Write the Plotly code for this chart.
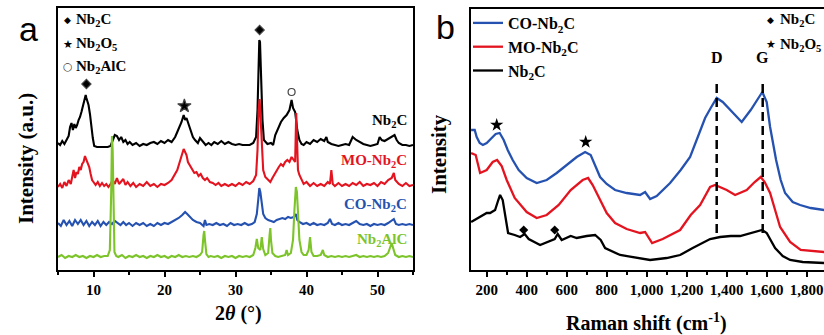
import plotly.graph_objects as go

# ---------------- Panel a : XRD (2theta, arbitrary intensity) ----------------
nb2c_x = [5.0, 5.3, 5.6, 5.9, 6.2, 6.5, 6.7, 6.9, 7.1, 7.3, 7.5, 7.7, 7.9, 8.1, 8.3, 8.5, 8.7, 8.9, 9.0, 9.1,
          9.3, 9.5, 9.7, 9.9, 10.1, 10.5, 11.0, 11.5, 12.0, 12.4, 12.7, 13.0, 13.3, 13.6, 13.9, 14.2, 14.5, 14.8,
          15.1, 15.5, 16.0, 16.5, 17.0, 17.5, 18.0, 18.5, 19.0, 19.5, 20.0, 20.5, 21.0, 21.5, 21.8, 22.1, 22.4,
          22.7, 22.9, 23.1, 23.4, 23.7, 24.0, 24.3, 24.7, 25.0, 25.4, 25.8, 26.2, 26.6, 27.0, 27.5, 28.0, 28.5,
          29.0, 29.5, 30.0, 30.5, 31.0, 31.5, 32.0, 32.5, 32.9, 33.1, 33.2, 33.35, 33.45, 33.6, 33.8, 34.0, 34.5,
          35.0, 35.3, 35.6, 36.0, 36.4, 36.8, 37.2, 37.6, 37.9, 38.1, 38.4, 38.7, 39.0, 39.3, 39.6, 40.0, 40.5,
          41.0, 41.5, 42.0, 42.5, 42.8, 43.0, 43.5, 44.0, 44.5, 45.0, 45.5, 46.0, 46.5, 47.0, 47.5, 48.0, 48.5,
          49.0, 49.5, 50.0, 50.3, 50.6, 51.0, 51.5, 52.0, 52.4, 52.7, 53.0, 53.5, 54.0, 54.5, 55.0]
nb2c_y = [127, 125, 129, 126, 130, 134, 143, 147, 140, 146, 142, 145, 150, 153, 158, 163, 168, 175, 172, 170,
          165, 156, 143, 132, 124, 123, 123, 123, 123, 124, 130, 135, 134, 130, 133, 128, 130, 126,
          128, 125, 127, 124, 126, 125, 127, 128, 126, 129, 127, 130, 128, 133, 138, 143, 148,
          155, 150, 152, 145, 140, 133, 130, 127, 132, 128, 125, 127, 125, 128, 126, 129, 126,
          128, 126, 125, 126, 125, 125, 125, 127, 133, 160, 200, 230, 228, 195, 150, 130, 126,
          127, 125, 135, 142, 148, 152, 155, 160, 170, 162, 158, 140, 130, 126, 125, 128, 126,
          130, 128, 131, 129, 133, 128, 126, 125, 124, 125, 126, 125, 133, 130, 128, 126, 125,
          124, 125, 126, 133, 130, 129, 131, 133, 135, 130, 127, 125, 125, 124, 125]

mo_x = [5.0, 5.3, 5.6, 5.9, 6.2, 6.5, 6.8, 7.0, 7.2, 7.4, 7.6, 7.8, 8.0, 8.2, 8.4, 8.6, 8.8, 9.0, 9.2, 9.4,
        9.6, 9.8, 10.0, 10.3, 10.6, 10.9, 11.2, 11.5, 11.8, 12.1, 12.4, 12.7, 13.0, 13.3, 13.6, 13.9, 14.2,
        14.5, 14.8, 15.2, 15.6, 16.0, 16.5, 17.0, 17.5, 18.0, 18.5, 19.0, 19.5, 20.0, 20.5, 21.0, 21.4, 21.8,
        22.1, 22.4, 22.7, 22.9, 23.1, 23.3, 23.6, 23.9, 24.2, 24.5, 24.8, 25.1, 25.4, 25.7, 26.0, 26.4, 26.8,
        27.2, 27.6, 28.0, 28.5, 29.0, 29.5, 30.0, 30.5, 31.0, 31.5, 32.0, 32.5, 32.9, 33.1, 33.25, 33.4,
        33.55, 33.7, 33.9, 34.2, 34.6, 34.9, 35.2, 35.5, 35.8, 36.1, 36.4, 36.7, 37.0, 37.3, 37.6, 37.9,
        38.2, 38.4, 38.55, 38.65, 38.8, 39.0, 39.3, 39.6, 40.0, 40.5, 41.0, 41.5, 42.0, 42.5, 43.0, 43.3,
        43.5, 43.7, 44.0, 44.5, 45.0, 45.5, 46.0, 46.5, 47.0, 47.5, 48.0, 48.5, 49.0, 49.5, 50.0, 50.5,
        51.0, 51.5, 52.0, 52.3, 52.5, 53.0, 53.5, 54.0, 54.5, 55.0]
mo_y = [83, 86, 82, 88, 84, 90, 86, 95, 100, 92, 98, 96, 103, 100, 106, 108, 114, 110, 107, 103,
        96, 90, 88, 85, 88, 84, 87, 84, 86, 83, 86, 90, 86, 92, 86, 89, 91,
        85, 88, 84, 87, 83, 86, 84, 88, 84, 86, 83, 86, 85, 87, 90, 95, 100,
        107, 114, 121, 118, 115, 108, 104, 100, 97, 98, 94, 96, 92, 90, 92, 88, 87,
        85, 87, 84, 86, 84, 86, 84, 87, 85, 88, 86, 89, 95, 120, 160, 171,
        150, 120, 100, 93, 90, 88, 92, 96, 100, 103, 106, 104, 108, 110, 108, 113,
        110, 108, 157, 140, 100, 95, 90, 86, 88, 84, 87, 84, 86, 84, 88, 86,
        100, 86, 84, 87, 84, 86, 84, 87, 85, 88, 84, 86, 85, 87, 84, 88,
        86, 90, 92, 97, 90, 86, 84, 87, 84, 85]

co_x = [5.0, 5.4, 5.8, 6.2, 6.6, 7.0, 7.4, 7.8, 8.2, 8.6, 9.0, 9.4, 9.8, 10.2, 10.6, 11.0, 11.4, 11.8, 12.2,
        12.6, 13.0, 13.4, 13.8, 14.2, 14.6, 15.0, 15.5, 16.0, 16.5, 17.0, 17.5, 18.0, 18.5, 19.0, 19.5, 20.0,
        20.5, 21.0, 21.5, 22.0, 22.5, 22.9, 23.2, 23.6, 24.0, 24.5, 25.0, 25.5, 25.7, 25.9, 26.3, 26.8, 27.3,
        27.8, 28.3, 28.8, 29.3, 29.8, 30.3, 30.8, 31.3, 31.8, 32.3, 32.7, 33.0, 33.2, 33.35, 33.5, 33.7, 33.9,
        34.2, 34.6, 35.0, 35.4, 35.8, 36.2, 36.6, 37.0, 37.4, 37.8, 38.2, 38.5, 38.7, 39.0, 39.5, 40.0, 40.5,
        41.0, 41.5, 42.0, 42.5, 43.0, 43.3, 43.6, 44.0, 44.5, 45.0, 45.5, 46.0, 46.5, 47.0, 47.5, 48.0, 48.5,
        49.0, 49.5, 50.0, 50.5, 51.0, 51.5, 52.0, 52.3, 52.6, 53.0, 53.5, 54.0, 54.5, 55.0]
co_y = [47, 44, 50, 45, 49, 44, 50, 46, 50, 45, 49, 44, 48, 45, 49, 44, 48, 45, 48,
        46, 49, 47, 45, 48, 45, 47, 44, 47, 45, 47, 44, 46, 44, 47, 45, 47,
        46, 48, 50, 52, 55, 58, 56, 53, 50, 48, 47, 44, 50, 45, 46, 45, 47,
        45, 46, 44, 47, 45, 46, 45, 47, 45, 46, 48, 56, 70, 82, 78, 64, 56,
        52, 50, 49, 48, 50, 51, 52, 51, 53, 52, 53, 56, 50, 48, 46, 47, 45,
        47, 45, 46, 45, 47, 51, 46, 45, 47, 45, 46, 45, 47, 49, 46, 45, 46,
        44, 46, 45, 46, 45, 47, 49, 51, 46, 45, 46, 45, 46, 45]

alc_x = [5.0, 5.5, 6.0, 6.5, 7.0, 7.5, 8.0, 8.5, 9.0, 9.5, 10.0, 10.5, 11.0, 11.5, 12.0, 12.3, 12.5, 12.6,
         12.7, 12.8, 12.95, 13.2, 13.5, 14.0, 14.5, 15.0, 15.5, 16.0, 16.5, 17.0, 17.5, 18.0, 18.5, 19.0, 19.5,
         20.0, 20.5, 21.0, 21.5, 22.0, 22.5, 23.0, 23.5, 24.0, 24.5, 25.0, 25.3, 25.5, 25.6, 25.7, 25.9, 26.2,
         26.5, 27.0, 27.5, 28.0, 28.5, 29.0, 29.5, 30.0, 30.5, 31.0, 31.5, 32.0, 32.5, 32.8, 33.0, 33.2, 33.5,
         33.7, 33.9, 34.2, 34.6, 34.8, 34.9, 35.0, 35.2, 35.6, 36.0, 36.5, 37.0, 37.2, 37.4, 37.8, 38.1, 38.3,
         38.5, 38.65, 38.8, 39.0, 39.3, 39.6, 40.0, 40.3, 40.5, 40.7, 41.0, 41.5, 42.0, 42.3, 42.5, 43.0, 43.5,
         44.0, 44.5, 45.0, 45.5, 46.0, 46.5, 47.0, 47.5, 48.0, 48.5, 49.0, 49.5, 50.0, 50.5, 51.0, 51.5, 51.8,
         52.0, 52.2, 52.5, 53.0, 53.5, 54.0, 54.5, 55.0]
alc_y = [13, 15, 12, 14, 13, 15, 13, 14, 12, 14, 13, 15, 13, 14, 14, 20, 80, 134,
         120, 50, 18, 14, 13, 15, 12, 14, 13, 15, 13, 14, 12, 14, 13, 15, 13,
         14, 12, 14, 13, 15, 13, 14, 13, 14, 13, 15, 18, 35, 39, 30, 16, 13,
         14, 13, 14, 12, 14, 13, 14, 12, 14, 13, 14, 13, 15, 22, 31, 22, 20,
         33, 21, 15, 17, 35, 42, 30, 17, 14, 13, 14, 15, 20, 15, 17, 30, 60,
         83, 78, 55, 30, 18, 15, 15, 20, 33, 18, 14, 14, 15, 20, 15, 13, 14,
         13, 14, 13, 14, 13, 14, 15, 13, 14, 13, 14, 13, 14, 13, 14, 17, 23,
         27, 22, 15, 13, 14, 13, 14, 13]

# phase markers above peaks (panel a)
a_mark_x = [9.0, 22.8, 33.4, 37.9]
a_mark_y = [186, 164, 240, 178]
a_mark_sym = ["diamond", "star", "diamond", "circle-open"]

a_labels = ["Nb<sub>2</sub>C", "MO-Nb<sub>2</sub>C", "CO-Nb<sub>2</sub>C", "Nb<sub>2</sub>AlC"]
a_xticks = [10, 20, 30, 40, 50]

# ---------------- Panel b : Raman ----------------
co_r_x = [122, 140, 150, 165, 181, 200, 220, 245, 265, 285, 305, 330, 360, 400, 450, 500, 550, 600, 650, 692,
          720, 767, 800, 842, 900, 967, 992, 1017, 1050, 1117, 1170, 1217, 1267, 1292, 1320, 1350, 1380, 1420,
          1475, 1520, 1550, 1578, 1600, 1617, 1647, 1670, 1692, 1730, 1767, 1820, 1887]
co_r_y = [140, 140, 133, 127, 125, 127, 131, 136, 137, 130, 120, 110, 100, 92, 87, 90, 97, 105, 113, 118,
          115, 93, 86, 80, 77, 75, 78, 71, 74, 87, 100, 113, 140, 152, 162, 172, 168, 160,
          148, 160, 170, 178, 168, 143, 110, 90, 77, 68, 65, 62, 60]

mo_r_x = [122, 145, 167, 200, 230, 252, 275, 300, 340, 400, 450, 500, 560, 620, 680, 707, 730, 767, 800, 842,
          900, 967, 992, 1027, 1080, 1167, 1220, 1267, 1317, 1342, 1400, 1442, 1500, 1540, 1570, 1590, 1617,
          1642, 1667, 1717, 1770, 1887]
mo_r_y = [117, 115, 97, 100, 108, 110, 104, 90, 72, 58, 52, 55, 65, 80, 90, 92, 85, 70, 57, 47,
          41, 37, 38, 27, 31, 40, 55, 65, 83, 85, 80, 75, 80, 88, 93, 88, 77,
          60, 43, 28, 20, 18]

nb_r_x = [122, 160, 200, 217, 242, 258, 267, 280, 295, 307, 340, 367, 390, 410, 467, 500, 540, 555, 575, 620,
          650, 700, 742, 770, 792, 867, 950, 1017, 1100, 1167, 1230, 1267, 1317, 1367, 1420, 1467, 1530, 1577,
          1600, 1642, 1680, 1717, 1780, 1887]
nb_r_y = [48, 52, 57, 57, 60, 70, 75, 70, 50, 37, 35, 33, 36, 31, 25, 28, 31, 36, 30, 34,
          32, 34, 35, 30, 22, 15, 12, 10, 12, 15, 22, 26, 31, 33, 34, 34, 37, 40,
          37, 22, 14, 10, 8, 7]

b_mark_x = [250, 695, 385, 540]
b_mark_y = [145, 128, 40, 40]
b_mark_sym = ["star", "star", "diamond", "diamond"]

band_x = [1350, 1580]           # D and G bands
band_y = [37, 190]              # extent of dashed guide lines
band_names = ["D", "G"]

b_xticks = [200, 400, 600, 800, 1000, 1200, 1400, 1600, 1800]

BLACK = "#000000"
RED = "#e3141f"
BLUE = "#2552b0"
GREEN = "#7cc42a"
SERIF = "Liberation Serif, Times New Roman, serif"

W, H = 824, 335
def PX(x):
    return x / W
def PY(y):
    return 1 - y / H

fig = go.Figure()

# panel a traces
for xs, ys, col in [(nb2c_x, nb2c_y, BLACK), (mo_x, mo_y, RED), (co_x, co_y, BLUE), (alc_x, alc_y, GREEN)]:
    fig.add_trace(go.Scatter(x=xs, y=ys, mode="lines", line=dict(color=col, width=2.1),
                             showlegend=False, xaxis="x", yaxis="y"))
for xm, ym, sm in zip(a_mark_x, a_mark_y, a_mark_sym):
    fig.add_trace(go.Scatter(x=[xm], y=[ym], mode="markers", showlegend=False, xaxis="x", yaxis="y",
                             marker=dict(symbol=sm, color=BLACK if sm != "circle-open" else "#444",
                                         size={"diamond": 7, "star": 10, "circle-open": 7}[sm],
                                         line=dict(width=1.2, color="#444"))))

# panel b traces (legend order: CO, MO, Nb2C)
for xs, ys, col, name in [(co_r_x, co_r_y, BLUE, "CO-Nb<sub>2</sub>C"),
                          (mo_r_x, mo_r_y, RED, "MO-Nb<sub>2</sub>C"),
                          (nb_r_x, nb_r_y, BLACK, "Nb<sub>2</sub>C")]:
    fig.add_trace(go.Scatter(x=xs, y=ys, mode="lines", line=dict(color=col, width=2.3),
                             name=name, legendgroup=name, showlegend=True, xaxis="x2", yaxis="y2"))
for xm, ym, sm in zip(b_mark_x, b_mark_y, b_mark_sym):
    fig.add_trace(go.Scatter(x=[xm], y=[ym], mode="markers", showlegend=False, xaxis="x2", yaxis="y2",
                             marker=dict(symbol=sm, color=BLACK, size=10 if sm == "star" else 7)))
for bx in band_x:
    fig.add_trace(go.Scatter(x=[bx, bx], y=band_y, mode="lines", showlegend=False, xaxis="x2", yaxis="y2",
                             line=dict(color=BLACK, width=2.5, dash="9px,5px")))

tickfont = dict(family=SERIF, size=15, color=BLACK, weight="bold")
fig.update_layout(
    width=W, height=H, margin=dict(l=0, r=0, t=0, b=0),
    paper_bgcolor="white", plot_bgcolor="white",
    xaxis=dict(domain=[PX(58), PX(413)], range=[5, 55], tickvals=a_xticks, ticks="outside", ticklen=5,
               tickwidth=1.5, tickcolor=BLACK, minor=dict(dtick=5, tick0=5, ticks="outside", ticklen=3,
               tickcolor=BLACK, tickwidth=1.5),
               showline=True, linewidth=2, linecolor=BLACK, mirror=True, showgrid=False, zeroline=False,
               tickfont=tickfont, anchor="y"),
    yaxis=dict(domain=[PY(270), PY(8)], range=[0, 262], showticklabels=False, ticks="", showgrid=False,
               zeroline=False, showline=True, linewidth=2, linecolor=BLACK, mirror=True, anchor="x"),
    xaxis2=dict(domain=[PX(471), 1.0], range=[121.5, 1886.5], tickvals=b_xticks, tickformat=",",
                ticks="outside", ticklen=5, tickwidth=1.5, tickcolor=BLACK,
                minor=dict(dtick=100, tick0=0, ticks="outside", ticklen=3, tickcolor=BLACK, tickwidth=1.5),
                showline=True, linewidth=2, linecolor=BLACK, mirror=True, showgrid=False, zeroline=False,
                tickfont=tickfont, anchor="y2"),
    yaxis2=dict(domain=[PY(270), PY(9)], range=[0, 261], showticklabels=False, ticks="", showgrid=False,
                zeroline=False, showline=True, linewidth=2, linecolor=BLACK, mirror=False, anchor="x2"),
    legend=dict(x=PX(468), y=PY(6), xanchor="left", yanchor="top", bgcolor="rgba(0,0,0,0)",
                font=dict(family=SERIF, size=16, color=BLACK, weight="bold"), tracegroupgap=0,
                itemwidth=30),
)

ann = []
def text(x, y, s, size=15, color=BLACK, xanchor="center", family=SERIF, angle=0, bold=True):
    ann.append(dict(x=PX(x), y=PY(y), xref="paper", yref="paper", text=s, showarrow=False,
                    xanchor=xanchor, yanchor="middle", textangle=angle,
                    font=dict(family=family, size=size, color=color, weight="bold" if bold else "normal")))

# panel letters
text(28, 29, "a", size=34, family="Liberation Sans, Arial, sans-serif", bold=False)
text(445, 27, "b", size=34, family="Liberation Sans, Arial, sans-serif", bold=False)

# panel a right-side labels
for lab, yy, col in zip(a_labels, [121, 161, 205, 240], [BLACK, RED, BLUE, GREEN]):
    text(409, yy, lab, color=col, xanchor="right")

# panel a phase key
text(62, 20, "◆", size=9, family="DejaVu Sans", xanchor="left")
text(74, 20, "Nb<sub>2</sub>C", xanchor="left")
text(61, 44, "★", size=11, family="DejaVu Sans", xanchor="left")
text(74, 44, "Nb<sub>2</sub>O<sub>5</sub>", xanchor="left")
text(61, 67, "○", size=11, family="DejaVu Sans", xanchor="left", color="#444")
text(74, 67, "Nb<sub>2</sub>AlC", xanchor="left")

# panel b phase key
text(765, 20, "◆", size=9, family="DejaVu Sans", xanchor="left")
text(778, 20, "Nb<sub>2</sub>C", xanchor="left")
text(764, 45, "★", size=11, family="DejaVu Sans", xanchor="left")
text(778, 45, "Nb<sub>2</sub>O<sub>5</sub>", xanchor="left")

# D / G labels
for bx, nm in zip(band_x, band_names):
    ann.append(dict(x=bx, y=band_y[1] + 12, xref="x2", yref="y2", text="<b>%s</b>" % nm, showarrow=False,
                    yanchor="bottom", font=dict(family=SERIF, size=16, color=BLACK)))

# axis titles
text(238, 313, "2<i>θ</i> (°)", size=20)
text(646, 322, "Raman shift (cm<sup>-1</sup>)", size=20)
text(26, 159, "Intensity (a.u.)", size=21, angle=-90)
text(439, 154, "Intensity", size=21, angle=-90)

fig.update_layout(annotations=ann)
fig.write_html("out.html", config={"displayModeBar": False},
               post_script="document.body.style.margin='0';document.body.style.padding='0';")
